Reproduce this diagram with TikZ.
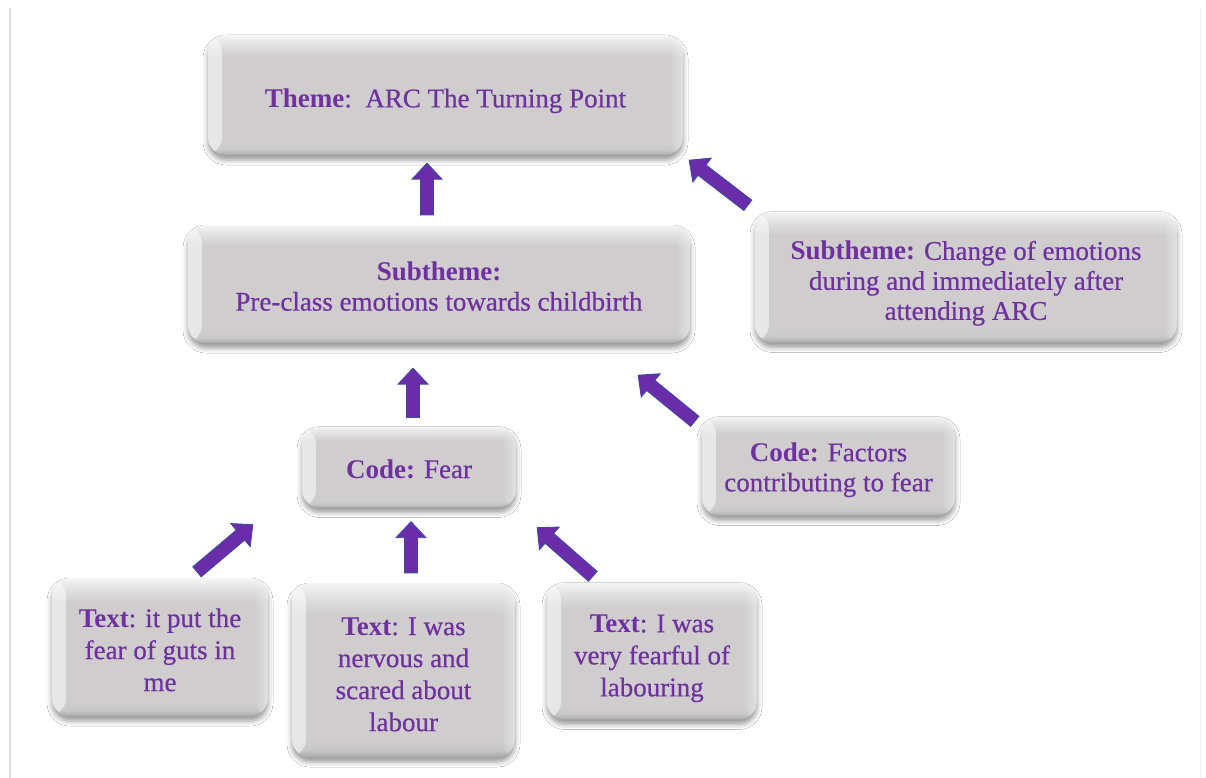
\documentclass[tikz,border=0pt]{standalone}
\usepackage{fontspec}
\setmainfont{Liberation Serif}[UprightFeatures={FakeBold=0.5}]
\usetikzlibrary{shadows.blur,calc,fadings}

\definecolor{txtpurple}{HTML}{7030A0}
\definecolor{arrowfill}{HTML}{6A2CA8}
\definecolor{arrowedge}{HTML}{3F48A8}
\definecolor{boxface}{HTML}{CFCDCE}
\definecolor{boxtop}{HTML}{F6F6F6}
\definecolor{boxlow}{HTML}{A9A9A9}
\definecolor{framegray}{HTML}{DADADA}

% vertical bevel: light rim on top, flat face, darker rim at the bottom
% (the path itself spans 25bp..75bp of the shading)
\pgfdeclareverticalshading{cardshade}{100bp}{%
  color(0bp)=(boxlow); color(25bp)=(boxlow); color(27bp)=(boxface!80!boxlow);
  color(30bp)=(boxface); color(66bp)=(boxface); color(71bp)=(boxface!60!white);
  color(75bp)=(boxtop); color(100bp)=(boxtop)}

% lowers a card's text block by #1 (extra height on its first line)
\newcommand\pushdown[1]{\rule{0pt}{\dimexpr18.5pt+#1*2\relax}}

\tikzset{
  % bevelled grey card with a soft shadow underneath
  card/.style={rounded corners=18pt, inner sep=0pt, align=center, text=txtpurple,
    font=\fontsize{27}{30}\selectfont, shading=cardshade,
    blur shadow={shadow xshift=0pt, shadow yshift=-5pt, shadow blur radius=5pt, shadow opacity=40},
    path picture={
      \fill[white, opacity=0.55, path fading=east]
        (path picture bounding box.south west) rectangle
        ([xshift=14pt]path picture bounding box.north west);
      \fill[white, opacity=0.40, path fading=west]
        ([xshift=-14pt]path picture bounding box.south east) rectangle
        (path picture bounding box.north east);}},
  textcard/.style={card, font=\fontsize{27}{32}\selectfont},
  % thick block arrow drawn as a closed outline from start to target
  blockarrow/.style={fill=arrowfill, draw=arrowedge, line width=0.9pt, line join=miter,
    to path={let \p1=(\tikztostart), \p2=(\tikztotarget),
      \n1={atan2(\y2-\y1,\x2-\x1)}, \n2={veclen(\x2-\x1,\y2-\y1)-16} in
      ($(\p1)+(\n1+90:6.5pt)$) -- ($(\p1)+(\n1:\n2)+(\n1+90:6.5pt)$)
      -- ($(\p1)+(\n1:\n2)+(\n1+90:15pt)$) -- (\p2)
      -- ($(\p1)+(\n1:\n2)+(\n1-90:15pt)$) -- ($(\p1)+(\n1:\n2)+(\n1-90:6.5pt)$)
      -- ($(\p1)+(\n1-90:6.5pt)$) -- cycle}}
}

\begin{document}
\begin{tikzpicture}[x=1pt,y=-1pt]
  \useasboundingbox (0,0) rectangle (1206,778);
  \fill[white] (0,0) rectangle (1206,778);
  \draw[framegray, line width=1.2pt] (10,8) -- (10,778);
  \draw[black!6, line width=1pt] (1200,8) -- (1200,778);

  % cards
  \node[card, minimum width=475pt, minimum height=120pt] (theme) at (445.5,95)
    {\pushdown{6pt}\textbf{Theme}:\ \ ARC The Turning Point};
  \node[card, minimum width=502pt, minimum height=118pt] (sub1) at (439,284)
    {\pushdown{2.5pt}\textbf{Subtheme:}\\Pre-class emotions towards childbirth};
  \node[card, minimum width=422pt, minimum height=131pt] (sub2) at (966,277)
    {\pushdown{6.5pt}\textbf{Subtheme:} Change of emotions\\during and immediately after\\attending ARC};
  \node[card, minimum width=214pt, minimum height=81pt] (fear) at (409,467)
    {\pushdown{2pt}\textbf{Code:} Fear};
  \node[card, minimum width=253pt, minimum height=99pt] (factors) at (828.5,466)
    {\pushdown{4pt}\textbf{Code:} Factors\\contributing to fear};
  \node[textcard, minimum width=216pt, minimum height=138pt] (t1) at (160,647)
    {\pushdown{3pt}\textbf{Text}: it put the\\fear of guts in\\me};
  \node[textcard, minimum width=223pt, minimum height=174pt] (t2) at (403.5,670)
    {\pushdown{4pt}\textbf{Text}: I was\\nervous and\\scared about\\labour};
  \node[textcard, minimum width=210pt, minimum height=137pt] (t3) at (652,651)
    {\pushdown{7pt}\textbf{Text}: I was\\very fearful of\\labouring};

  % connectors
  \draw[blockarrow] ([shift={(-12pt,10pt)}]sub1.north) to ([shift={(-18.5pt,-8pt)}]theme.south);
  \draw[blockarrow] ([shift={(-7pt,6pt)}]sub2.north west) to ([shift={(6pt,-5pt)}]theme.south east);
  \draw[blockarrow] ([shift={(4pt,9pt)}]fear.north) to ([shift={(-26pt,-25pt)}]sub1.south);
  \draw[blockarrow] ([shift={(-7pt,-5pt)}]factors.north west) to ([shift={(-52pt,-32pt)}]sub1.south east);
  \draw[blockarrow] ([shift={(37pt,6pt)}]t1.north) to ([shift={(-49pt,-17pt)}]fear.south west);
  \draw[blockarrow] ([shift={(7.5pt,10pt)}]t2.north) to ([shift={(2pt,-14pt)}]fear.south);
  \draw[blockarrow] ([shift={(46pt,6pt)}]t3.north west) to ([shift={(21pt,-20pt)}]fear.south east);
\end{tikzpicture}
\end{document}
